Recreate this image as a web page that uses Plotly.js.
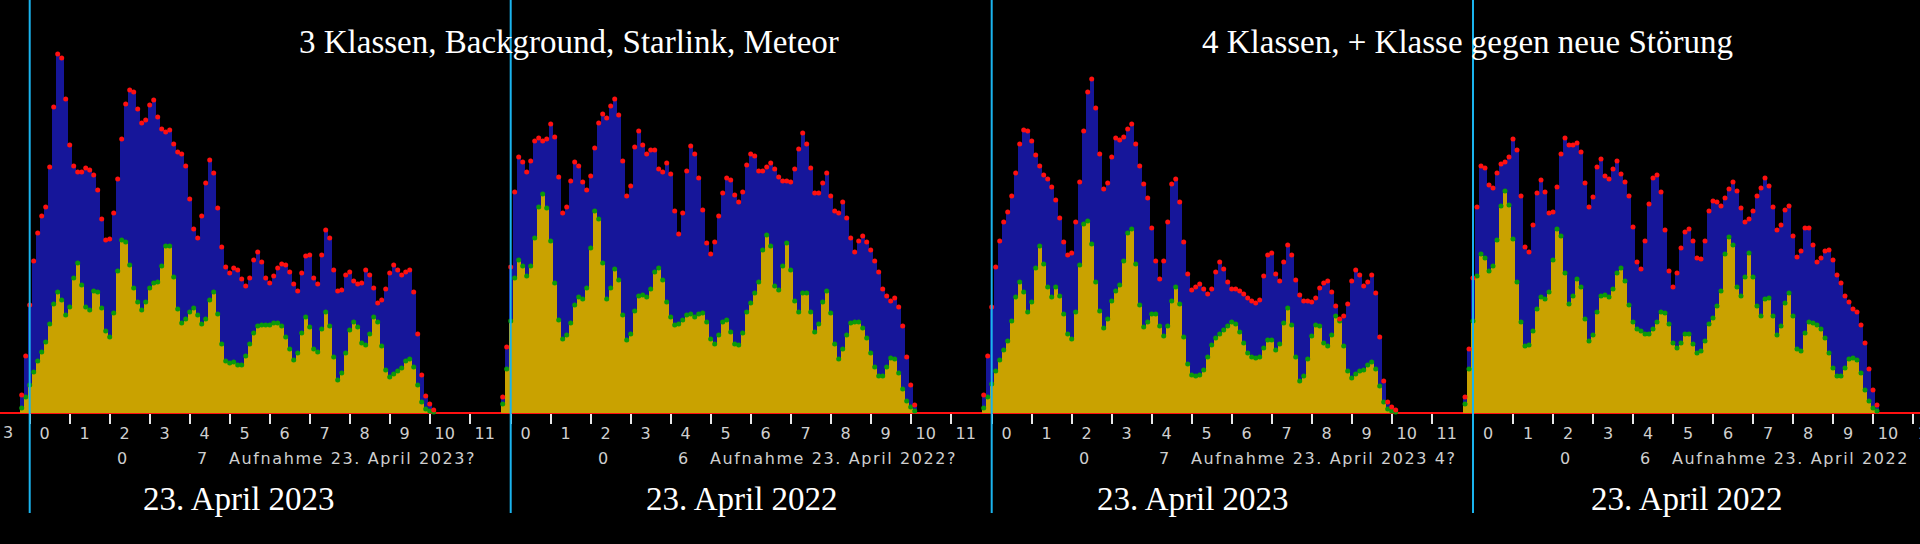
<!DOCTYPE html>
<html>
<head>
<meta charset="utf-8">
<script src="https://cdn.plot.ly/plotly-3.0.1.min.js"></script>
<style>html,body{margin:0;padding:0;background:#000;overflow:hidden}</style>
</head>
<body>
<div id="chart" style="width:1920px;height:544px"></div>
<script>
// ---- data (bins of 0.1 starting at -0.2) ----
const binStart = -0.2;
const binStep = 0.1;

const p1Total = [18,57,108,152,180,197,206,246,306,359,
  355,314,268,247,241,241,245,243,238,223,
  194,173,174,200,234,274,309,323,321,304,
  290,293,308,313,296,284,281,283,269,261,
  259,247,214,184,175,197,230,253,240,205,
  166,146,140,145,143,134,127,135,153,161,
  151,135,130,137,145,149,148,141,129,122,
  140,157,158,135,129,158,183,175,143,122,
  123,138,141,132,129,130,143,138,125,110,
  113,124,140,148,143,138,141,143,121,79,
  38,17,9,3];
const p1Background = [5,16,28,41,52,61,71,89,109,121,
  113,98,106,135,150,128,106,103,122,121,
  105,82,76,100,142,173,171,148,125,111,
  103,111,125,130,131,147,167,167,136,104,
  90,94,101,105,98,89,94,113,121,99,
  69,52,50,51,48,48,57,69,80,87,
  88,88,88,90,90,87,76,64,53,60,
  80,96,86,64,61,84,101,87,56,33,
  40,60,83,91,86,70,68,79,96,91,
  67,43,36,39,42,45,52,54,46,28,
  11,4,2,1];

const p2Total = [16,66,146,221,256,251,241,252,272,275,
  272,274,289,276,236,200,206,232,251,247,
  231,223,237,265,290,299,295,307,314,298,
  252,217,227,266,282,268,259,263,263,244,
  241,250,239,202,179,200,242,267,259,235,
  203,170,159,171,197,220,235,233,218,211,
  221,248,259,257,242,242,246,250,244,236,
  232,232,231,244,264,280,269,245,220,220,
  230,240,217,202,200,211,195,175,161,172,
  177,171,163,152,141,124,117,112,115,106,
  87,56,28,8];
const p2Background = [9,44,92,135,153,147,137,147,175,206,
  219,205,172,130,93,74,78,90,108,116,
  114,125,165,202,194,150,114,125,144,133,
  98,73,79,102,117,118,116,124,141,145,
  133,111,96,88,89,93,98,99,96,99,
  100,91,74,69,78,91,93,81,69,68,
  80,101,110,120,131,163,178,167,127,123,
  147,170,143,112,101,120,120,101,81,89,
  111,122,100,69,54,64,78,90,91,91,
  85,75,60,46,37,37,46,55,54,40,
  24,12,6,2];

const p3Total = [18,57,106,146,172,191,201,217,240,269,
  283,282,272,258,247,238,234,226,213,195,
  171,158,160,191,231,282,321,334,305,259,
  224,230,256,275,273,276,284,289,269,247,
  229,215,185,152,134,152,191,229,234,211,
  171,139,123,126,129,124,119,124,141,151,
  144,131,124,124,122,119,115,112,110,113,
  137,158,160,139,132,151,168,158,133,118,
  112,112,111,115,125,130,132,121,107,94,
  97,109,132,143,138,127,131,138,120,76,
  32,11,6,3];
const p3Background = [5,16,29,42,53,63,72,92,116,131,
  121,101,111,145,167,149,126,116,126,117,
  99,79,74,101,148,189,192,169,131,102,
  85,94,112,122,128,152,180,184,149,108,
  86,91,99,99,87,77,87,112,126,109,
  76,49,38,37,38,43,56,68,75,79,
  83,87,91,89,81,70,60,56,55,56,
  65,73,73,63,69,90,105,88,56,32,
  37,54,77,88,87,70,67,78,97,92,
  67,42,35,39,42,43,48,51,44,27,
  11,4,2,1];

const p4Total = [16,64,135,206,247,245,228,225,240,249,
  251,256,274,263,217,166,161,188,220,233,
  221,200,201,226,259,275,268,268,270,261,
  230,206,216,246,254,237,234,244,252,239,
  231,217,186,151,144,172,209,235,238,221,
  183,142,126,140,165,181,184,172,155,154,
  172,202,212,211,207,215,224,231,222,205,
  191,194,202,217,225,235,227,206,183,188,
  203,207,177,156,162,185,185,168,151,155,
  162,163,153,138,130,117,111,104,101,88,
  70,44,23,8];
const p4Background = [9,44,92,137,159,155,142,147,173,207,
  222,208,174,131,91,67,68,82,104,116,
  114,121,153,184,177,140,109,117,134,126,
  94,72,78,101,117,118,116,124,140,145,
  132,108,91,84,82,79,79,84,91,101,
  100,89,70,65,70,79,79,69,60,62,
  72,89,95,107,122,159,176,168,126,117,
  136,160,136,107,97,114,115,97,78,87,
  110,120,97,64,62,80,91,90,88,84,
  75,60,45,37,37,45,54,55,53,40,
  23,12,5,2];

const totals = [p1Total, p2Total, p3Total, p4Total];
const backgrounds = [p1Background, p2Background, p3Background, p4Background];

const headerTitles = ['3 Klassen, Background, Starlink, Meteor', '4 Klassen, + Klasse gegen neue Störung'];
const panelTitles = ['23. April 2023', '23. April 2022', '23. April 2023', '23. April 2022'];
const recordMarks = [['0', '7'], ['0', '6'], ['0', '7'], ['0', '6']];
const recordLabels = ['Aufnahme 23. April 2023?', 'Aufnahme 23. April 2022?', 'Aufnahme 23. April 2023 4?', 'Aufnahme 23. April 2022'];
const cutLabel = '3';

// ---- geometry (pixels) ----
const W = 1920, H = 544;
const edges = [0, 498, 979, 1460, 1920];
const zeroPx = [29.7, 510.7, 991.7, 1473];
const pxPerUnit = 40;
const baselinePx = 413, topPx = 45;
const py = v => 1 - v / H;
const px = v => v / W;

const BLUE = '#16169a', YELLOW = '#c9a200', RED = '#ff1010', GREEN = '#0a9a0a', CYAN = '#1ab4ee';
const tickFont = {family: 'DejaVu Sans', size: 16, color: '#cfcfcf'};
const serifFont = {family: 'Liberation Serif', size: 33, color: '#ffffff'};

const traces = [];
const layout = {
  width: W, height: H, autosize: false,
  margin: {l: 0, r: 0, t: 0, b: 0, pad: 0},
  paper_bgcolor: '#000', plot_bgcolor: '#000',
  showlegend: false, barmode: 'overlay', bargap: 0,
  yaxis: {
    domain: [py(baselinePx), py(topPx)], range: [0, baselinePx - topPx],
    showgrid: false, showticklabels: false, ticks: '', showline: false,
    zeroline: true, zerolinecolor: RED, zerolinewidth: 2.5, fixedrange: true
  },
  shapes: [], annotations: []
};

const titleCenters = [239, 742, 1193, 1687];
for (let i = 0; i < 4; i++) {
  const xa = i === 0 ? 'x' : 'x' + (i + 1);
  const key = i === 0 ? 'xaxis' : 'xaxis' + (i + 1);
  layout[key] = {
    domain: [px(edges[i]), px(edges[i + 1])],
    range: [(edges[i] - zeroPx[i]) / pxPerUnit, (edges[i + 1] - zeroPx[i]) / pxPerUnit],
    anchor: 'y', showgrid: false, zeroline: false, showline: false,
    tickmode: 'linear', tick0: 0, dtick: 1,
    ticks: 'outside', ticklen: 10, tickwidth: 2, tickcolor: '#e6e6e6',
    tickfont: tickFont, ticklabelshift: 15, ticklabelstandoff: -4,
    ticklabeloverflow: 'allow', fixedrange: true
  };
  traces.push({type: 'bar', x0: binStart, dx: binStep, y: totals[i], xaxis: xa, yaxis: 'y',
    marker: {color: BLUE, line: {width: 0}}, width: binStep, hoverinfo: 'skip'});
  traces.push({type: 'bar', x0: binStart, dx: binStep, y: backgrounds[i], xaxis: xa, yaxis: 'y',
    marker: {color: YELLOW, line: {width: 0}}, width: binStep, hoverinfo: 'skip'});
  traces.push({type: 'scatter', mode: 'markers', x0: binStart, dx: binStep, y: backgrounds[i], xaxis: xa, yaxis: 'y',
    marker: {color: GREEN, size: 5, symbol: 'circle', line: {width: 0}}, cliponaxis: false, hoverinfo: 'skip'});
  traces.push({type: 'scatter', mode: 'markers', x0: binStart, dx: binStep, y: totals[i], xaxis: xa, yaxis: 'y',
    marker: {color: RED, size: 5, symbol: 'circle', line: {width: 0}}, cliponaxis: false, hoverinfo: 'skip'});

  layout.shapes.push({type: 'line', xref: 'paper', yref: 'paper',
    x0: px(zeroPx[i]), x1: px(zeroPx[i]), y0: py(513), y1: 1,
    line: {color: CYAN, width: 2}, layer: 'above'});

  const c = zeroPx[i];
  layout.annotations.push({xref: 'paper', yref: 'paper', x: px(c + 92), y: py(458),
    xanchor: 'center', yanchor: 'middle', showarrow: false, text: recordMarks[i][0], font: tickFont});
  layout.annotations.push({xref: 'paper', yref: 'paper', x: px(c + 172), y: py(458),
    xanchor: 'center', yanchor: 'middle', showarrow: false, text: recordMarks[i][1], font: tickFont});
  layout.annotations.push({xref: 'paper', yref: 'paper', x: px(c + 197), y: py(458),
    xanchor: 'left', yanchor: 'middle', showarrow: false,
    text: '<span style="letter-spacing:1.6px">' + recordLabels[i] + '</span>', font: tickFont});
  layout.annotations.push({xref: 'paper', yref: 'paper', x: px(titleCenters[i]), y: py(499),
    xanchor: 'center', yanchor: 'middle', showarrow: false, text: panelTitles[i], font: serifFont});
}
const headerCenters = [568.5, 1467.5];
for (let j = 0; j < 2; j++) {
  layout.annotations.push({xref: 'paper', yref: 'paper', x: px(headerCenters[j]), y: py(42),
    xanchor: 'center', yanchor: 'middle', showarrow: false, text: headerTitles[j], font: serifFont});
}
layout.annotations.push({xref: 'paper', yref: 'paper', x: px(8), y: py(432),
  xanchor: 'center', yanchor: 'middle', showarrow: false, text: cutLabel, font: tickFont});

Plotly.newPlot('chart', traces, layout, {staticPlot: true, displayModeBar: false});
</script>
</body>
</html>
